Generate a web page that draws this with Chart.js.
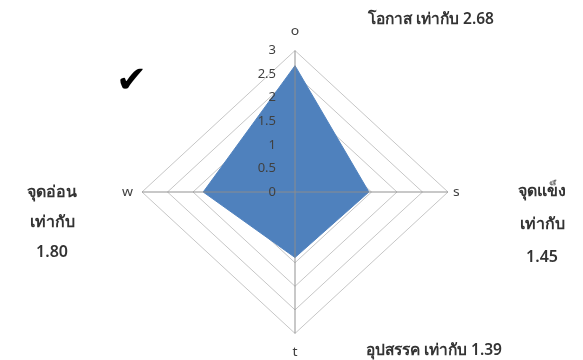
<!DOCTYPE html>
<html>
<head>
<meta charset="utf-8">
<script src="https://cdn.jsdelivr.net/npm/chart.js@4"></script>
<style>
  html, body { margin: 0; padding: 0; background: #fff; overflow: hidden; }
  #wrap { position: relative; width: 583px; height: 360px; overflow: hidden; }
  #box { position: absolute; left: 0; top: -38px; width: 583px; height: 440px; }
  .note { position: absolute; font-family: "Noto Sans", "DejaVu Sans", sans-serif; font-weight: 600;
          font-size: 15.5px; color: #333; text-align: center; white-space: nowrap; }
  #tick { position: absolute; left: 116px; top: 61px; font-size: 37px; line-height: 1; color: #000;
          font-family: "DejaVu Sans", sans-serif; }
</style>
</head>
<body>
<div id="wrap">
  <div id="box"><canvas id="radarChart"></canvas></div>
  <div id="tick">✔</div>
  <div class="note" style="left:368px; top:6px;">โอกาส เท่ากับ 2.68</div>
  <div class="note" style="left:0px; top:176px; width:104px; line-height:30px; font-size:16px;">จุดอ่อน<br>เท่ากับ<br>1.80</div>
  <div class="note" style="left:490px; top:174px; width:104px; line-height:33px; font-size:16px;">จุดแข็ง<br>เท่ากับ<br>1.45</div>
  <div class="note" style="left:366px; top:337px;">อุปสรรค เท่ากับ 1.39</div>
</div>
<script>
// ข้อมูล SWOT
const axisLabels = ['o', 's', 't', 'w'];
const scores = [2.68, 1.45, 1.39, 1.80];
const tickValues = [0, 0.5, 1, 1.5, 2, 2.5, 3];

const squash = 140.5 / 152; // Excel chart is a bit flatter than wide

const flatten = {
    id: 'flatten',
    beforeDraw(chart) {
        const r = chart.scales.r;
        const ctx = chart.ctx;
        ctx.save();
        ctx.translate(0, r.yCenter);
        ctx.scale(1, squash);
        ctx.translate(0, -r.yCenter);
    },
    afterDatasetsDraw(chart) {
        // axis lines sit over the filled area
        const r = chart.scales.r;
        const ctx = chart.ctx;
        ctx.save();
        ctx.strokeStyle = '#8c8c8c';
        ctx.lineWidth = 1;
        axisLabels.forEach((l, i) => {
            const p = r.getPointPosition(i, r.drawingArea);
            ctx.beginPath();
            ctx.moveTo(r.xCenter, r.yCenter);
            ctx.lineTo(p.x, p.y);
            ctx.stroke();
        });
        ctx.restore();
    },
    afterDraw(chart) {
        const r = chart.scales.r;
        const ctx = chart.ctx;
        ctx.restore();
        ctx.save();
        ctx.font = '13px "Noto Sans", sans-serif';
        ctx.fillStyle = '#404040';
        ctx.textAlign = 'right';
        ctx.textBaseline = 'middle';
        tickValues.forEach(v => {
            const y = r.yCenter - r.getDistanceFromCenterForValue(v) * squash;
            ctx.fillText(String(v), r.xCenter - 19, y);
        });
        ctx.restore();
    }
};

new Chart(document.getElementById('radarChart'), {
    type: 'radar',
    data: {
        labels: axisLabels,
        datasets: [{
            data: scores,
            backgroundColor: '#4f81bd',
            borderColor: '#4f81bd',
            borderWidth: 1,
            pointRadius: 0,
            fill: true
        }]
    },
    options: {
        responsive: true,
        maintainAspectRatio: false,
        animation: false,
        layout: { padding: { left: 118, right: 119, top: 40, bottom: 18 } },
        plugins: { legend: { display: false }, tooltip: { enabled: false } },
        scales: {
            r: {
                min: 0,
                max: 3,
                ticks: { stepSize: 0.5, display: false },
                grid: { color: '#c4c4c4', lineWidth: 1 },
                angleLines: { display: false },
                pointLabels: {
                    font: { size: 14, family: 'Noto Sans' },
                    color: '#404040',
                    padding: ctx => [12, 5, 12, 9][ctx.index]
                }
            }
        }
    },
    plugins: [flatten]
});
</script>
</body>
</html>
